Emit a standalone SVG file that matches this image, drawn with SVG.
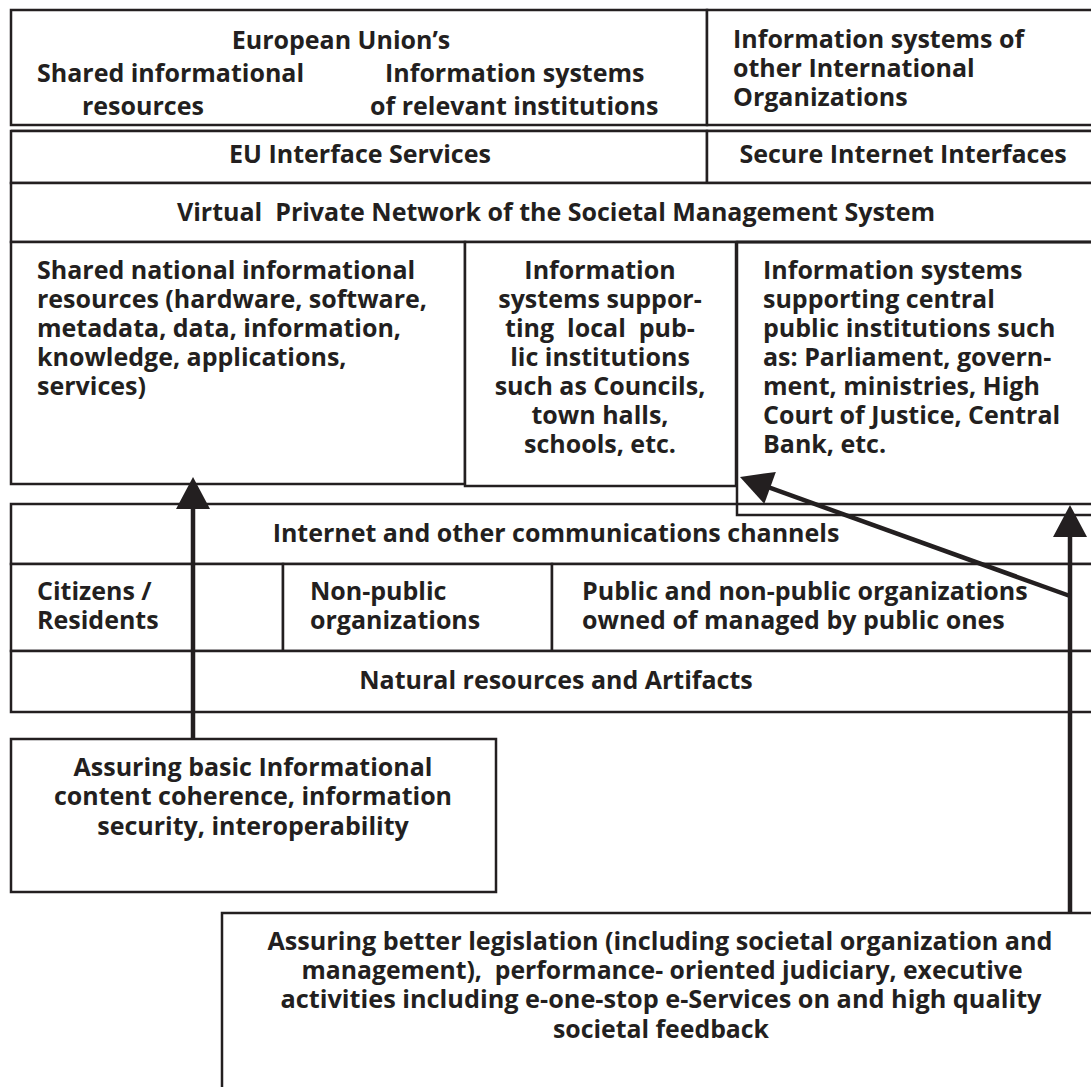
<svg xmlns="http://www.w3.org/2000/svg" width="1091" height="1087" viewBox="0 0 1091 1087">
<style>
.b{fill:#fff;stroke:#231f20;stroke-width:2.5}
.l{fill:none;stroke:#231f20;stroke-width:2.5}
.t{font-family:"Open Sans","Noto Sans","DejaVu Sans",sans-serif;font-weight:700;font-size:25px;fill:#231f20}
.m{text-anchor:middle}
.c{stroke:#231f20;stroke-width:4.5;fill:none}
</style>
<defs>
<marker id="ah" markerUnits="userSpaceOnUse" markerWidth="34" markerHeight="34" viewBox="0 0 32 34" refX="12" refY="17" orient="auto">
<path d="M0,0 L32,17 L0,34 Z" fill="#231f20"/>
</marker>
</defs>
<rect width="1091" height="1087" fill="#fff"/>

<g id="top-eu">
<rect class="b" x="11" y="10" width="696" height="115"/>
<text class="t m" x="341" y="49">European Union’s</text>
<text class="t" x="37" y="82">Shared informational</text>
<text class="t" x="82" y="115">resources</text>
<text class="t" x="385" y="82">Information systems</text>
<text class="t" x="370" y="115">of relevant institutions</text>
</g>
<g id="top-intl">
<rect class="b" x="707" y="10" width="400" height="115"/>
<text class="t" x="733" y="48">Information systems of</text>
<text class="t" x="733" y="77">other International</text>
<text class="t" x="733" y="106">Organizations</text>
</g>
<g id="eu-interface">
<line class="l" x1="11" y1="131" x2="1100" y2="131"/>
<rect class="b" x="11" y="131" width="696" height="52"/>
<text class="t m" x="360" y="163">EU Interface Services</text>
</g>
<g id="secure-internet">
<rect class="b" x="707" y="131" width="400" height="52"/>
<text class="t m" x="903" y="163">Secure Internet Interfaces</text>
</g>
<g id="vpn">
<rect class="b" x="11" y="183" width="1096" height="59"/>
<text class="t m" x="556" y="221" xml:space="preserve">Virtual  Private Network of the Societal Management System</text>
</g>
<g id="national-resources">
<rect class="b" x="11" y="242" width="454" height="242"/>
<text class="t" x="37" y="279">Shared national informational</text>
<text class="t" x="37" y="308">resources (hardware, software,</text>
<text class="t" x="37" y="337">metadata, data, information,</text>
<text class="t" x="37" y="366">knowledge, applications,</text>
<text class="t" x="37" y="395">services)</text>
</g>
<g id="local-institutions">
<rect class="b" x="465" y="242" width="271" height="244"/>
<text class="t m" x="600" y="279">Information</text>
<text class="t m" x="600" y="308">systems suppor-</text>
<text class="t m" x="600" y="337" xml:space="preserve">ting  local  pub-</text>
<text class="t m" x="600" y="366">lic institutions</text>
<text class="t m" x="600" y="395">such as Councils,</text>
<text class="t m" x="600" y="424">town halls,</text>
<text class="t m" x="600" y="453">schools, etc.</text>
</g>
<g id="internet">
<rect class="b" x="11" y="504" width="1096" height="60"/>
<text class="t m" x="556" y="542">Internet and other communications channels</text>
</g>
<g id="central-institutions">
<rect class="b" x="737" y="242" width="370" height="273" style="fill:none"/>
<rect x="739" y="244" width="360" height="258" fill="#fff"/>
<line class="l" x1="737" y1="242" x2="1100" y2="242"/>
<text class="t" x="763" y="279">Information systems</text>
<text class="t" x="763" y="308">supporting central</text>
<text class="t" x="763" y="337">public institutions such</text>
<text class="t" x="763" y="366">as: Parliament, govern-</text>
<text class="t" x="763" y="395">ment, ministries, High</text>
<text class="t" x="763" y="424">Court of Justice, Central</text>
<text class="t" x="763" y="453">Bank, etc.</text>
</g>
<g id="citizens">
<rect class="b" x="11" y="564" width="272" height="87"/>
<text class="t" x="37" y="600">Citizens /</text>
<text class="t" x="37" y="629">Residents</text>
</g>
<g id="non-public">
<rect class="b" x="283" y="564" width="269" height="87"/>
<text class="t" x="310" y="600">Non-public</text>
<text class="t" x="310" y="629">organizations</text>
</g>
<g id="public-orgs">
<rect class="b" x="552" y="564" width="555" height="87"/>
<text class="t" x="582" y="600">Public and non-public organizations</text>
<text class="t" x="582" y="629">owned of managed by public ones</text>
</g>
<g id="natural">
<rect class="b" x="11" y="651" width="1096" height="61"/>
<text class="t m" x="556" y="689">Natural resources and Artifacts</text>
</g>
<g id="basic-coherence">
<rect class="b" x="11" y="739" width="485" height="153"/>
<text class="t m" x="253" y="776">Assuring basic Informational</text>
<text class="t m" x="253" y="805">content coherence, information</text>
<text class="t m" x="253" y="835">security, interoperability</text>
</g>
<g id="better-legislation">
<rect class="b" x="222" y="913" width="900" height="200"/>
<text class="t m" x="660" y="950" textLength="785" lengthAdjust="spacingAndGlyphs">Assuring better legislation (including societal organization and</text>
<text class="t m" x="662" y="979" textLength="721" lengthAdjust="spacingAndGlyphs" xml:space="preserve">management),  performance- oriented judiciary, executive</text>
<text class="t m" x="661" y="1008" textLength="761" lengthAdjust="spacingAndGlyphs">activities including e-one-stop e-Services on and high quality</text>
<text class="t m" x="661" y="1038" textLength="216" lengthAdjust="spacingAndGlyphs">societal feedback</text>
</g>

<g id="connectors">
<line class="c" x1="193" y1="739" x2="193" y2="497" marker-end="url(#ah)"/>
<line class="c" x1="1070" y1="913" x2="1070" y2="525" marker-end="url(#ah)"/>
<line class="c" x1="1070" y1="596" x2="758.8" y2="483.8" marker-end="url(#ah)"/>
</g>
</svg>
